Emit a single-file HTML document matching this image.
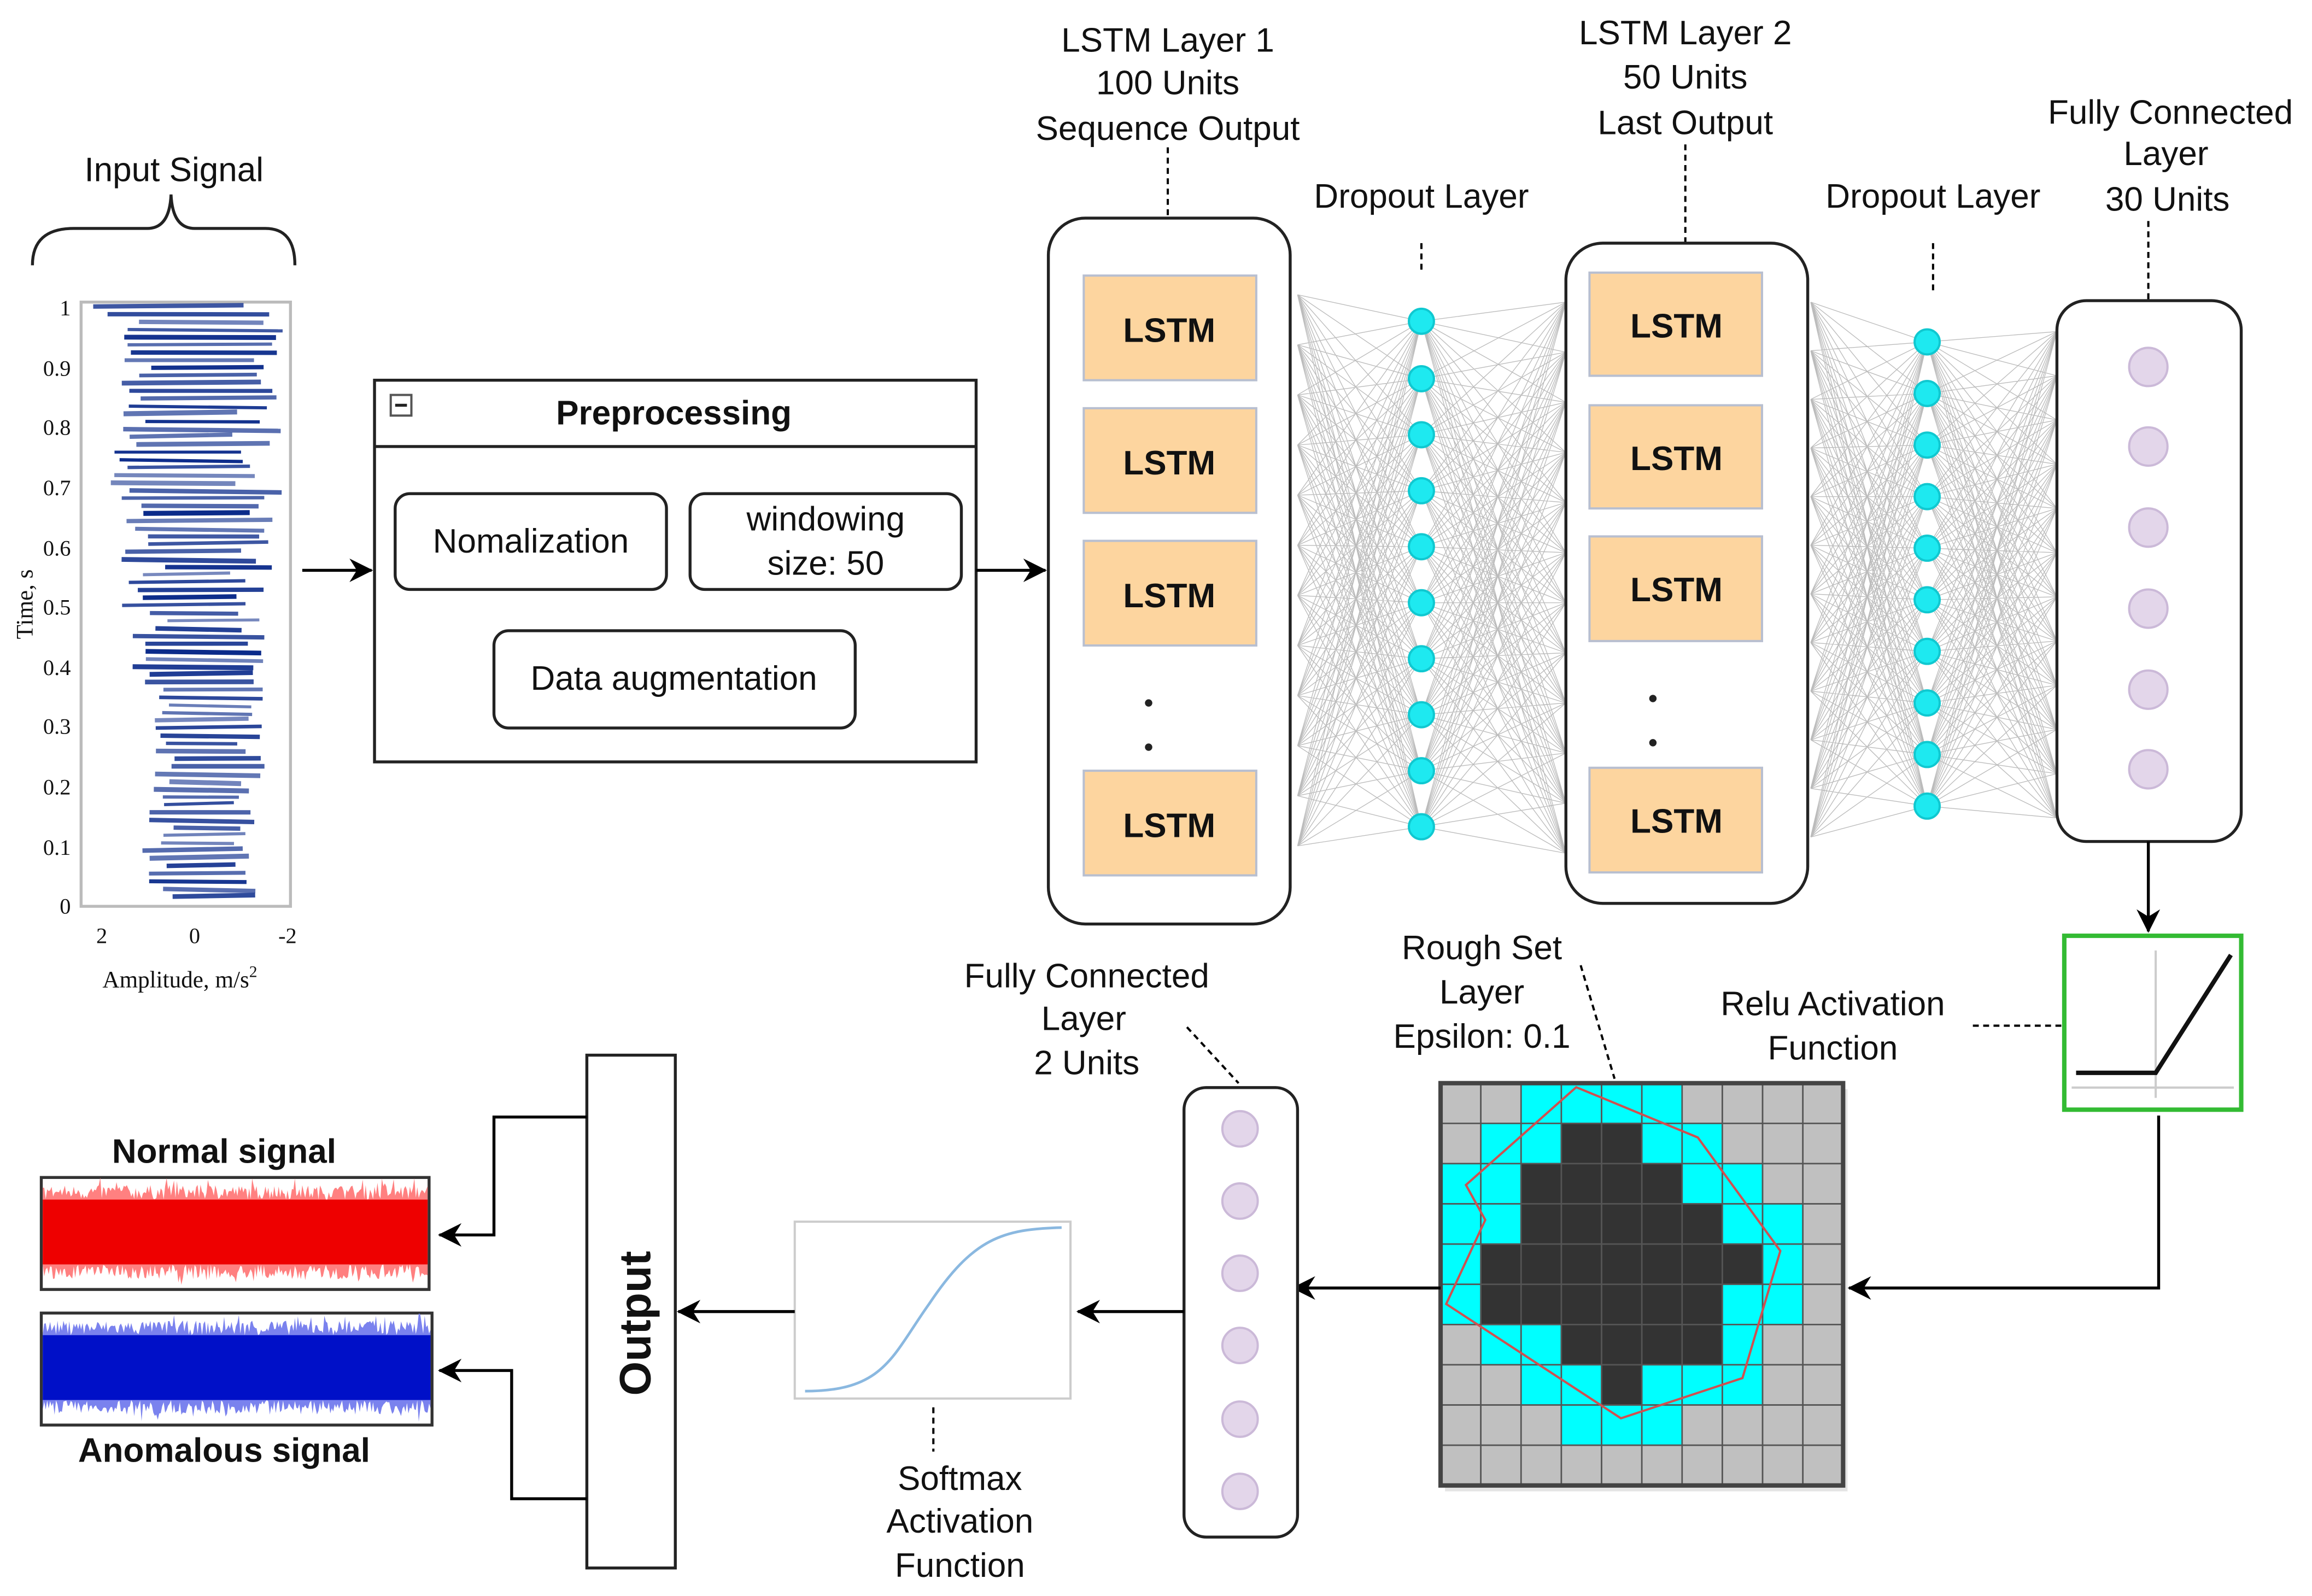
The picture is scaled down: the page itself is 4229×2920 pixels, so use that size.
<!DOCTYPE html>
<html><head><meta charset="utf-8"><style>
html,body{margin:0;padding:0;background:#fff}
svg{display:block}
text{font-family:"Liberation Sans",Arial,sans-serif;font-size:23px;fill:#111}
.b{font-weight:bold}
</style></head><body>
<svg id="s" xmlns="http://www.w3.org/2000/svg" width="4229" height="2920" viewBox="0 0 1568 1083" preserveAspectRatio="none">
<defs>
<marker id="ar2" markerWidth="16" markerHeight="16" refX="15" refY="8" orient="auto" markerUnits="userSpaceOnUse">
<path d="M0,0 L16,8 L0,16 L5,8 z" fill="#000"/></marker>
</defs>
<rect width="1568" height="1083" fill="#fff"/>
<g id="conn" stroke="#bbb" stroke-width="0.5" fill="none"></g>

<!-- Input signal -->
<text x="118" y="123" text-anchor="middle">Input Signal</text>
<path d="M22,180 Q22,155 50,155 L100,155 Q115,155 116,132 Q117,155 132,155 L180,155 Q200,155 200,180" fill="none" stroke="#222" stroke-width="2"/>
<rect x="55" y="205" width="142" height="410" fill="#fff" stroke="#bbb" stroke-width="2"/>
<g id="sig" stroke="#0a2a8a" fill="none"></g>
<g>
<text x="48" y="214" text-anchor="end" style="font-family:'Liberation Serif';font-size:15px">1</text>
<text x="48" y="255" text-anchor="end" style="font-family:'Liberation Serif';font-size:15px">0.9</text>
<text x="48" y="295" text-anchor="end" style="font-family:'Liberation Serif';font-size:15px">0.8</text>
<text x="48" y="336" text-anchor="end" style="font-family:'Liberation Serif';font-size:15px">0.7</text>
<text x="48" y="377" text-anchor="end" style="font-family:'Liberation Serif';font-size:15px">0.6</text>
<text x="48" y="417" text-anchor="end" style="font-family:'Liberation Serif';font-size:15px">0.5</text>
<text x="48" y="458" text-anchor="end" style="font-family:'Liberation Serif';font-size:15px">0.4</text>
<text x="48" y="498" text-anchor="end" style="font-family:'Liberation Serif';font-size:15px">0.3</text>
<text x="48" y="539" text-anchor="end" style="font-family:'Liberation Serif';font-size:15px">0.2</text>
<text x="48" y="580" text-anchor="end" style="font-family:'Liberation Serif';font-size:15px">0.1</text>
<text x="48" y="620" text-anchor="end" style="font-family:'Liberation Serif';font-size:15px">0</text>
<text x="69" y="640" text-anchor="middle" style="font-family:'Liberation Serif';font-size:15px">2</text>
<text x="132" y="640" text-anchor="middle" style="font-family:'Liberation Serif';font-size:15px">0</text>
<text x="195" y="640" text-anchor="middle" style="font-family:'Liberation Serif';font-size:15px">-2</text>
<text x="122" y="670" text-anchor="middle" style="font-family:'Liberation Serif';font-size:16px">Amplitude, m/s<tspan dy="-7" style="font-size:11px">2</tspan></text>
<text transform="translate(22,410) rotate(-90)" text-anchor="middle" style="font-family:'Liberation Serif';font-size:16px">Time, s</text>
</g>
<line x1="205" y1="387" x2="252" y2="387" stroke="#000" stroke-width="2" marker-end="url(#ar2)"/>

<!-- Preprocessing -->
<rect x="254" y="258" width="408" height="259" fill="#fff" stroke="#222" stroke-width="2"/>
<line x1="254" y1="303" x2="662" y2="303" stroke="#222" stroke-width="2"/>
<rect x="265" y="268" width="14" height="14" fill="#fff" stroke="#555" stroke-width="1.5"/>
<line x1="268" y1="275" x2="276" y2="275" stroke="#222" stroke-width="2"/>
<text x="457" y="288" text-anchor="middle" class="b">Preprocessing</text>
<rect x="268" y="335" width="184" height="65" rx="10" fill="#fff" stroke="#222" stroke-width="2"/>
<text x="360" y="375" text-anchor="middle">Nomalization</text>
<rect x="468" y="335" width="184" height="65" rx="10" fill="#fff" stroke="#222" stroke-width="2"/>
<text x="560" y="360" text-anchor="middle">windowing</text>
<text x="560" y="390" text-anchor="middle">size: 50</text>
<rect x="335" y="428" width="245" height="66" rx="10" fill="#fff" stroke="#222" stroke-width="2"/>
<text x="457" y="468" text-anchor="middle">Data augmentation</text>
<line x1="662" y1="387" x2="709" y2="387" stroke="#000" stroke-width="2" marker-end="url(#ar2)"/>

<!-- LSTM 1 -->
<text x="792" y="35" text-anchor="middle">LSTM Layer 1</text>
<text x="792" y="64" text-anchor="middle">100 Units</text>
<text x="792" y="95" text-anchor="middle">Sequence Output</text>
<line x1="792" y1="100" x2="792" y2="148" stroke="#000" stroke-width="1.5" stroke-dasharray="4,3"/>
<rect x="711" y="148" width="164" height="479" rx="25" fill="#fff" stroke="#222" stroke-width="2"/>
<g fill="#fdd59f" stroke="#b8bfd0" stroke-width="1.5">
<rect x="735" y="187" width="117" height="71"/><rect x="735" y="277" width="117" height="71"/>
<rect x="735" y="367" width="117" height="71"/><rect x="735" y="523" width="117" height="71"/></g>
<text x="793" y="232" text-anchor="middle" class="b">LSTM</text>
<text x="793" y="322" text-anchor="middle" class="b">LSTM</text>
<text x="793" y="412" text-anchor="middle" class="b">LSTM</text>
<text x="793" y="568" text-anchor="middle" class="b">LSTM</text>
<circle cx="779" cy="477" r="2.5" fill="#222"/><circle cx="779" cy="507" r="2.5" fill="#222"/>

<text x="964" y="141" text-anchor="middle">Dropout Layer</text>
<line x1="964" y1="165" x2="964" y2="186" stroke="#000" stroke-width="1.5" stroke-dasharray="4,3"/>
<g id="d1" fill="#1ee9f0" stroke="#10c8d0" stroke-width="1.5"></g>

<!-- LSTM 2 -->
<text x="1143" y="30" text-anchor="middle">LSTM Layer 2</text>
<text x="1143" y="60" text-anchor="middle">50 Units</text>
<text x="1143" y="91" text-anchor="middle">Last Output</text>
<line x1="1143" y1="98" x2="1143" y2="165" stroke="#000" stroke-width="1.5" stroke-dasharray="4,3"/>
<rect x="1062" y="165" width="164" height="448" rx="25" fill="#fff" stroke="#222" stroke-width="2"/>
<g fill="#fdd59f" stroke="#b8bfd0" stroke-width="1.5">
<rect x="1078" y="185" width="117" height="70"/><rect x="1078" y="275" width="117" height="70"/>
<rect x="1078" y="364" width="117" height="71"/><rect x="1078" y="521" width="117" height="71"/></g>
<text x="1137" y="229" text-anchor="middle" class="b">LSTM</text>
<text x="1137" y="319" text-anchor="middle" class="b">LSTM</text>
<text x="1137" y="408" text-anchor="middle" class="b">LSTM</text>
<text x="1137" y="565" text-anchor="middle" class="b">LSTM</text>
<circle cx="1121" cy="474" r="2.5" fill="#222"/><circle cx="1121" cy="504" r="2.5" fill="#222"/>

<text x="1311" y="141" text-anchor="middle">Dropout Layer</text>
<line x1="1311" y1="165" x2="1311" y2="200" stroke="#000" stroke-width="1.5" stroke-dasharray="4,3"/>
<g id="d2" fill="#1ee9f0" stroke="#10c8d0" stroke-width="1.5"></g>

<!-- FC 30 -->
<text x="1472" y="84" text-anchor="middle">Fully Connected</text>
<text x="1469" y="112" text-anchor="middle">Layer</text>
<text x="1470" y="143" text-anchor="middle">30 Units</text>
<line x1="1457" y1="150" x2="1457" y2="204" stroke="#000" stroke-width="1.5" stroke-dasharray="4,3"/>
<rect x="1395" y="204" width="125" height="367" rx="20" fill="#fff" stroke="#222" stroke-width="2"/>
<g fill="#e3d6ea" stroke="#cbb9d8" stroke-width="1.5">
<circle cx="1457" cy="249" r="13"/><circle cx="1457" cy="303" r="13"/><circle cx="1457" cy="358" r="13"/>
<circle cx="1457" cy="413" r="13"/><circle cx="1457" cy="468" r="13"/><circle cx="1457" cy="522" r="13"/></g>
<line x1="1457" y1="571" x2="1457" y2="632" stroke="#000" stroke-width="2" marker-end="url(#ar2)"/>

<!-- Relu -->
<rect x="1400" y="635" width="120" height="118" fill="#fff" stroke="#33bb33" stroke-width="3"/>
<line x1="1462" y1="645" x2="1462" y2="745" stroke="#ccc" stroke-width="1.5"/>
<line x1="1405" y1="738" x2="1515" y2="738" stroke="#ccc" stroke-width="1.5"/>
<polyline points="1408,728 1462,728 1513,648" fill="none" stroke="#111" stroke-width="3"/>
<text x="1243" y="689" text-anchor="middle">Relu Activation</text>
<text x="1243" y="719" text-anchor="middle">Function</text>
<line x1="1338" y1="696" x2="1400" y2="696" stroke="#000" stroke-width="1.5" stroke-dasharray="4,3"/>
<polyline points="1464,757 1464,874 1254,874" fill="none" stroke="#000" stroke-width="2" marker-end="url(#ar2)"/>

<!-- Rough set -->
<text x="1005" y="651" text-anchor="middle">Rough Set</text>
<text x="1005" y="681" text-anchor="middle">Layer</text>
<text x="1005" y="711" text-anchor="middle">Epsilon: 0.1</text>
<line x1="1072" y1="655" x2="1095" y2="732" stroke="#000" stroke-width="1.5" stroke-dasharray="4,3"/>
<rect x="980" y="739" width="273" height="273" fill="#ddd" opacity="0.8"/>
<g id="grid"></g>
<line x1="977" y1="874" x2="877" y2="874" stroke="#000" stroke-width="2" marker-end="url(#ar2)"/>

<!-- FC2 -->
<text x="737" y="670" text-anchor="middle">Fully Connected</text>
<text x="735" y="699" text-anchor="middle">Layer</text>
<text x="737" y="729" text-anchor="middle">2 Units</text>
<line x1="805" y1="697" x2="840" y2="735" stroke="#000" stroke-width="1.5" stroke-dasharray="4,3"/>
<rect x="803" y="738" width="77" height="305" rx="15" fill="#fff" stroke="#222" stroke-width="2"/>
<g fill="#e3d6ea" stroke="#cbb9d8" stroke-width="1.5">
<circle cx="841" cy="766" r="12"/><circle cx="841" cy="815" r="12"/><circle cx="841" cy="864" r="12"/>
<circle cx="841" cy="913" r="12"/><circle cx="841" cy="963" r="12"/><circle cx="841" cy="1012" r="12"/></g>
<line x1="803" y1="890" x2="731" y2="890" stroke="#000" stroke-width="2" marker-end="url(#ar2)"/>

<!-- Softmax -->
<rect x="539" y="829" width="187" height="120" fill="#fff" stroke="#ccc" stroke-width="1.5"/>
<path d="M546,944 C600,944 605,920 630,885 C660,840 680,834 720,833" fill="none" stroke="#8ab8e0" stroke-width="1.8"/>
<line x1="633" y1="955" x2="633" y2="985" stroke="#000" stroke-width="1.5" stroke-dasharray="4,3"/>
<text x="651" y="1011" text-anchor="middle">Softmax</text>
<text x="651" y="1040" text-anchor="middle">Activation</text>
<text x="651" y="1070" text-anchor="middle">Function</text>
<line x1="539" y1="890" x2="460" y2="890" stroke="#000" stroke-width="2" marker-end="url(#ar2)"/>

<!-- Output -->
<rect x="398" y="716" width="60" height="348" fill="#fff" stroke="#222" stroke-width="2"/>
<text transform="translate(441,898) rotate(-90)" text-anchor="middle" class="b" style="font-size:30px">Output</text>
<polyline points="398,758 335,758 335,838 298,838" fill="none" stroke="#000" stroke-width="2" marker-end="url(#ar2)"/>
<polyline points="398,1017 347,1017 347,930 298,930" fill="none" stroke="#000" stroke-width="2" marker-end="url(#ar2)"/>

<text x="152" y="789" text-anchor="middle" class="b">Normal signal</text>
<rect x="28" y="799" width="263" height="76" fill="#fff" stroke="#333" stroke-width="2"/>
<g id="red"></g>
<rect x="28" y="891" width="265" height="76" fill="#fff" stroke="#333" stroke-width="2"/>
<g id="blue"></g>
<text x="152" y="992" text-anchor="middle" class="b">Anomalous signal</text>
</svg>
<script>
var NS="http://www.w3.org/2000/svg";
function el(p,t,a){var e=document.createElementNS(NS,t);for(var k in a)e.setAttribute(k,a[k]);p.appendChild(e);return e;}
var seed=7;function r(){seed=(seed*16807)%2147483647;return seed/2147483647;}
var conn=document.getElementById('conn');
var d1=[218,257,295,333,371,409,447,485,523,561],d2=[232,267,302,337,372,407,442,477,512,547];
var s1=[],s2=[],s3=[],s4=[];
for(var i=0;i<12;i++){s1.push(200+i*34);s2.push(205+i*34);}
for(var i=0;i<12;i++){s3.push(205+i*33);s4.push(225+i*30);}
var p="";
s1.forEach(function(a){d1.forEach(function(b){p+="M880,"+a+"L964,"+b;});});
d1.forEach(function(a){s2.forEach(function(b){p+="M964,"+a+"L1062,"+b;});});
s3.forEach(function(a){d2.forEach(function(b){p+="M1228,"+a+"L1307,"+b;});});
d2.forEach(function(a){s4.forEach(function(b){p+="M1307,"+a+"L1395,"+b;});});
el(conn,'path',{d:p});
var g1=document.getElementById('d1');d1.forEach(function(y){el(g1,'circle',{cx:964,cy:y,r:8.5});});
var g2=document.getElementById('d2');d2.forEach(function(y){el(g2,'circle',{cx:1307,cy:y,r:8.5});});
var sg=document.getElementById('sig');
for(var y=208;y<612;y+=5.2){var t=(y-208)/404;var amp=62-28*t;var c=130+(r()-0.5)*14+8*t;
var x1=c-amp*(0.55+0.45*r()),x2=c+amp*(0.55+0.45*r());x1=Math.max(57,x1);x2=Math.min(195,x2);
el(sg,'line',{x1:x1,y1:y,x2:x2,y2:y+(r()-0.5)*3,'stroke-width':2+r()*1.4,'stroke-opacity':0.55+0.45*r()});}
var G=["GGCCCCGGGG","GCCDDCCGGG","CCDDDDCCGG","CCDDDDDCCG","CDDDDDDDCG","CDDDDDDCCG","GCCDDDDCGG","GGCCDCCCGG","GGGCCCGGGG","GGGGGGGGGG"];
var gg=document.getElementById('grid'),ox=977,oy=735,cs=27.3,col={G:"#c0c0c0",C:"#00ffff",D:"#333333"};
for(var i=0;i<10;i++)for(var j=0;j<10;j++)el(gg,'rect',{x:ox+j*cs,y:oy+i*cs,width:cs,height:cs,fill:col[G[i][j]],stroke:"#555","stroke-width":1});
el(gg,'rect',{x:ox,y:oy,width:cs*10,height:cs*10,fill:"none",stroke:"#444","stroke-width":3});
var pts=[[3.37,0.1],[6.39,1.35],[8.44,4.17],[7.5,7.33],[4.48,8.33],[0.14,5.49],[1.11,3.4],[0.63,2.53]].map(function(q){return (ox+q[0]*cs)+","+(oy+q[1]*cs);}).join(" ");
el(gg,'polygon',{points:pts,fill:"none",stroke:"#d05050","stroke-width":1.5});
function noise(id,x0,x1,yc,c1,c2){var g=document.getElementById(id);
var pu="M"+x0+","+yc;for(var x=x0;x<=x1;x+=1){pu+="L"+x+","+(yc-22-r()*10-(r()<0.1?5:0));}
var pd="";for(var x=x1;x>=x0;x-=1){pd+="L"+x+","+(yc+22+r()*10+(r()<0.1?5:0));}
el(g,'path',{d:pu+pd+"Z",fill:c2});
el(g,'rect',{x:x0,y:yc-22,width:x1-x0,height:44,fill:c1});}
noise('red',29,290,836,"#ee0000","#ff8080");
noise('blue',29,292,928,"#0010c8","#7a82ee");
</script>
</body></html>
